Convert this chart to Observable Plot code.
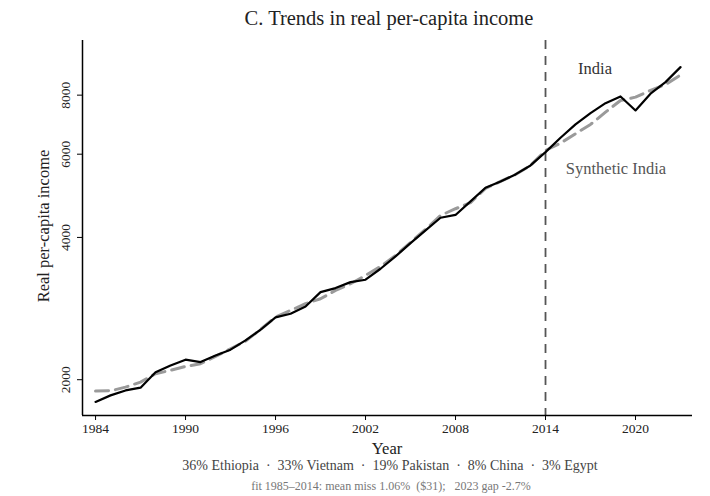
<!DOCTYPE html>
<html>
<head>
<meta charset="utf-8">
<script src="https://cdn.jsdelivr.net/npm/d3@7"></script>
<script src="https://cdn.jsdelivr.net/npm/@observablehq/plot@0.6"></script>
<style>
  body { margin: 0; background: #fff; }
  svg { font-family: "Liberation Serif", "DejaVu Serif", serif; }
</style>
</head>
<body>
<div id="chart"></div>
<script>
const years = d3.range(1984, 2024);
const india = [1795, 1853, 1898, 1924, 2075, 2144, 2205, 2179, 2251, 2315,
               2422, 2551, 2709, 2758, 2858, 3064, 3125, 3217, 3255, 3434,
               3646, 3890, 4139, 4403, 4463, 4767, 5096, 5254, 5437, 5680,
               6060, 6501, 6936, 7329, 7694, 7949, 7425, 8055, 8523, 9169];
const synthetic = [1892, 1895, 1929, 1977, 2059, 2093, 2134, 2162, 2240, 2326,
                   2414, 2555, 2713, 2803, 2896, 2967, 3090, 3192, 3324, 3473,
                   3664, 3904, 4159, 4452, 4600, 4740, 5078, 5254, 5437, 5680,
                   6111, 6332, 6628, 6936, 7364, 7796, 7922, 8185, 8426, 8823];
const xTicks = [1984, 1990, 1996, 2002, 2008, 2014, 2020];
const yTicks = [2000, 4000, 6000, 8000];
const treatYear = 2014;
const labels = [
  {year: 2017.3, value: 9110, text: "India", color: "#333"},
  {year: 2018.7, value: 5597, text: "Synthetic India", color: "#555"}
];
const title = "C. Trends in real per-capita income";
const xLabel = "Year";
const yLabel = "Real per-capita income";
const caption1 = "36% Ethiopia  ·  33% Vietnam  ·  19% Pakistan  ·  8% China  ·  3% Egypt";
const caption2 = "fit 1985–2014: mean miss 1.06%  ($31);   2023 gap -2.7%";

const indiaRows = years.map((y, i) => ({year: y, value: india[i]}));
const synthRows = years.map((y, i) => ({year: y, value: synthetic[i]}));

const W = 710, H = 496;
const mL = 82, mR = 18, mT = 40, mB = 81;

const plot = Plot.plot({
  width: W,
  height: H,
  marginLeft: mL,
  marginRight: mR,
  marginTop: mT,
  marginBottom: mB,
  style: {fontFamily: "'Liberation Serif', 'DejaVu Serif', serif", fontSize: "13px", color: "#222", background: "#fff"},
  x: {domain: [1983.13, 2023.8], label: null},
  y: {type: "log", domain: [1680, 10440], label: null},
  marks: [
    Plot.ruleX([treatYear], {stroke: "#555", strokeWidth: 1.8, strokeDasharray: "9,7"}),
    Plot.lineY(synthRows, {x: "year", y: "value", stroke: "#9a9a9a", strokeWidth: 3, strokeDasharray: "13,7"}),
    Plot.lineY(indiaRows, {x: "year", y: "value", stroke: "#000", strokeWidth: 2.2}),
    Plot.text(labels, {x: "year", y: "value", text: "text", fill: "color", fontSize: 16.5, textAnchor: "middle"}),
    Plot.axisX({ticks: xTicks, tickFormat: d => String(d), tickSize: 5, tickPadding: 3, fontSize: 13.5, stroke: "#000", fill: "#222"}),
    Plot.axisY({ticks: yTicks, tickFormat: d => String(d), tickSize: 5, tickPadding: 8, tickRotate: -90, fontSize: 13.5, stroke: "#000", fill: "#222"}),
    Plot.ruleY([1680], {stroke: "#000", strokeWidth: 1.5}),
    Plot.ruleX([1983.13], {stroke: "#000", strokeWidth: 1.5})
  ]
});

const svg = d3.select(plot);
const cx = mL + (W - mL - mR) / 2;
const add = (x, y, txt, size, fill, rot) => {
  const t = svg.append("text")
    .attr("x", x).attr("y", y)
    .attr("text-anchor", "middle")
    .attr("dominant-baseline", "middle")
    .attr("font-size", size)
    .attr("fill", fill)
    .text(txt);
  if (rot) t.attr("transform", `rotate(${rot},${x},${y})`);
  return t;
};
add(cx + 2, 20, title, 20.5, "#222");
add(cx, 450, xLabel, 16.5, "#222");
add(cx + 3, 467, caption1, 14, "#444").attr("xml:space", "preserve").style("white-space", "pre");
add(cx + 4, 487, caption2, 12, "#777").style("white-space", "pre");
add(45, 226, yLabel, 16.5, "#222", -90);

document.getElementById("chart").appendChild(plot);
</script>
</body>
</html>
